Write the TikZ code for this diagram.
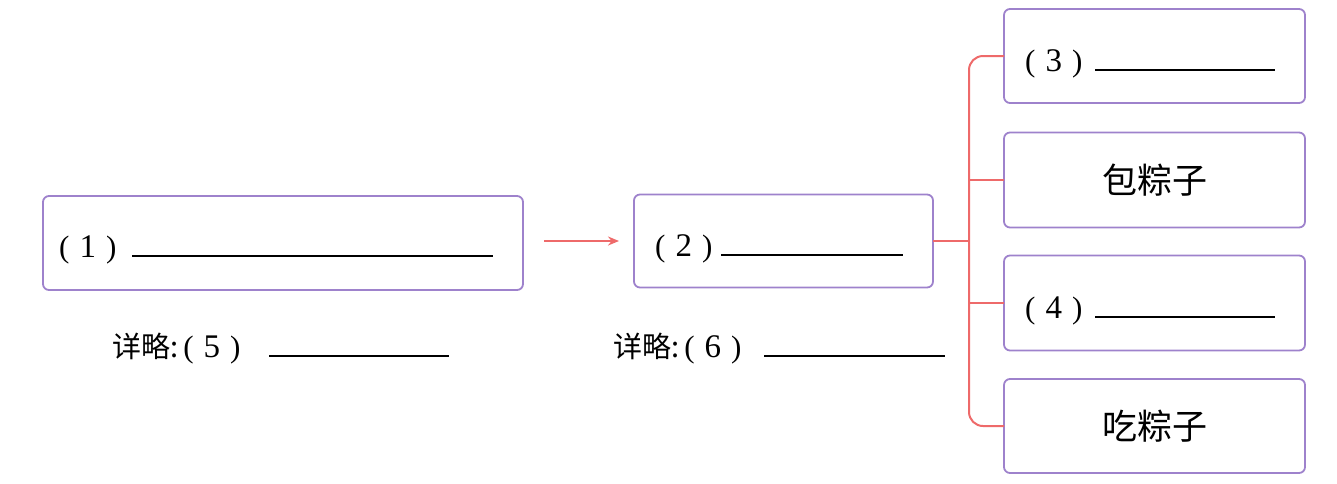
\documentclass[tikz,border=0pt]{standalone}
\usepackage{fontspec}
\newfontfamily\cjk{Noto Sans CJK SC}
\newfontfamily\ser{Liberation Serif}
\usetikzlibrary{arrows.meta}
\definecolor{boxc}{HTML}{9E82CC}
\definecolor{linec}{HTML}{EE6A6A}
\newcommand\blank[1]{\rule{#1}{1.8pt}}
\newcommand\pa[1]{{\ser\fontsize{31}{36}\selectfont #1}}
\newcommand\num[1]{\pa{(}\hspace{10pt}{\ser\fontsize{33}{40}\selectfont #1}\hspace{10pt}\pa{)}}
\newcommand\xl{{\cjk\fontsize{29}{34}\selectfont 详略:}\hspace{5pt}}
\tikzset{
  box/.style={draw=boxc, line width=1.8pt, rounded corners=6pt, inner sep=0pt, outer sep=0pt},
  lbl/.style={anchor=base west, inner sep=0pt},
  zh/.style={inner sep=0pt, font=\cjk\fontsize{35}{40}\selectfont},
  conn/.style={draw=linec, line width=2pt},
}
\begin{document}
\begin{tikzpicture}[x=1pt,y=-1pt]
\useasboundingbox (0,0) rectangle (1337,483);
\node[box, minimum width=480pt, minimum height=94pt] (b1) at (283,243) {};
\node[box, minimum width=299pt, minimum height=93pt] (b2) at (783.5,241) {};
\node[box, minimum width=301pt, minimum height=94pt] (b3) at (1154.5,56) {};
\node[box, minimum width=301pt, minimum height=95pt] (b4) at (1154.5,180) {};
\node[box, minimum width=301pt, minimum height=95pt] (b5) at (1154.5,303) {};
\node[box, minimum width=301pt, minimum height=94pt] (b6) at (1154.5,426) {};

\node[lbl] (t1) at (59,257) {\num{1}\hspace{16pt}\blank{361pt}};
\node[lbl] (t2) at (655,256) {\num{2}\hspace{9pt}\blank{182pt}};
\node[lbl] (t3) at (1025,71) {\num{3}\hspace{13pt}\blank{180pt}};
\node[lbl] (t5) at (1025,318) {\num{4}\hspace{13pt}\blank{180pt}};
\node[zh] (t4) at (b4.center) {包粽子};
\node[zh] (t6) at (b6.center) {吃粽子};
\node[lbl] (d5) at (112,357) {\xl\num{5}\hspace{29pt}\blank{180pt}};
\node[lbl] (d6) at (613,357) {\xl\num{6}\hspace{23pt}\blank{181pt}};

\coordinate (as) at (544,241);
\draw[conn, -{Stealth[length=11pt,width=9pt]}] (as) -- ([xshift=-15pt]b2.west);
\coordinate (bus) at (969,241);
\draw[conn] (b2.east) -- (bus);
\draw[conn, rounded corners=14pt] (b3.west) -| (bus) |- (b6.west);
\draw[conn] (bus |- b4.west) -- (b4.west);
\draw[conn] (bus |- b5.west) -- (b5.west);
\end{tikzpicture}
\end{document}
